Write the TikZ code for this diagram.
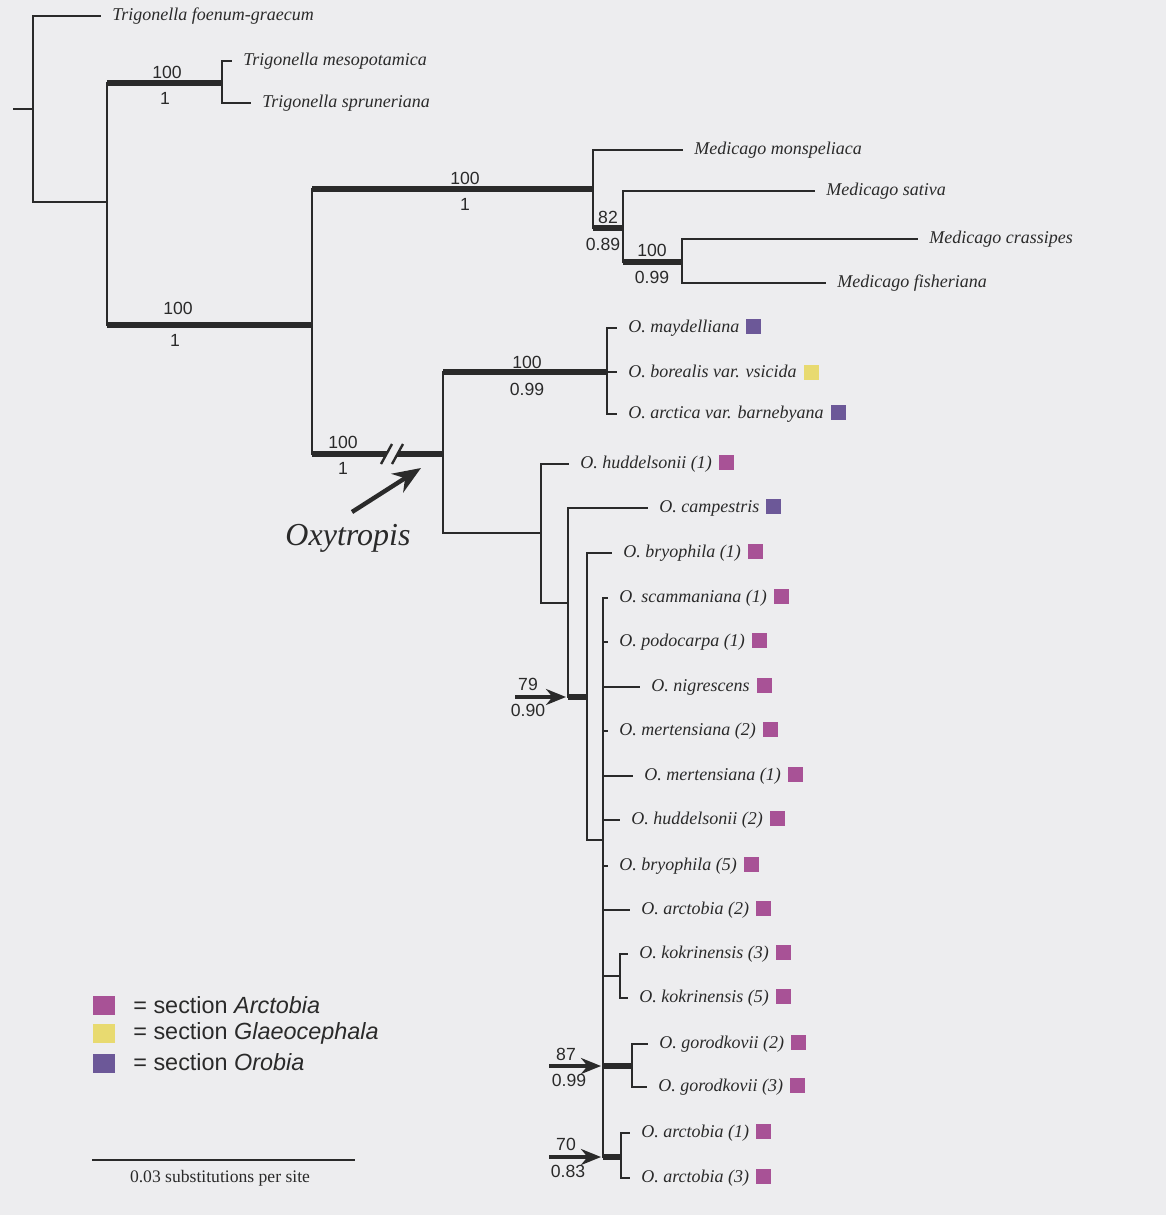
\documentclass[tikz,border=0pt]{standalone}
\usepackage{fontspec}
\setmainfont{Liberation Serif}
\newfontfamily\arial{Liberation Sans}
\usetikzlibrary{arrows.meta}
\definecolor{ink}{RGB}{42,42,42}
\definecolor{paper}{RGB}{237,237,239}
\definecolor{arcto}{RGB}{168,82,150}
\definecolor{glaeo}{RGB}{232,218,112}
\definecolor{orob}{RGB}{108,88,152}
\newcommand\secbox[1]{\hspace{3.5pt}\textcolor{#1}{\rule[-0.8pt]{7.5pt}{7.5pt}}}

\begin{document}
\begin{tikzpicture}[x=0.5pt,y=-0.5pt,
  br/.style={draw=ink,line width=0.8pt},
  thk/.style={draw=ink,line width=3.2pt},
  taxon/.style={anchor=west,inner xsep=5.5pt,inner ysep=1pt,text=ink,font=\fontsize{9}{10}\selectfont\itshape},
  supp/.style={inner sep=0pt,text=ink,font=\arial\fontsize{8.8}{9}\selectfont},
  supparrow/.style={draw=ink,line width=1.6pt,shorten >=1pt,-{Stealth[length=10pt,width=8pt]}},
  legbox/.style={minimum width=11pt,minimum height=9.5pt,inner sep=0pt},
  legtext/.style={anchor=west,inner sep=0pt,text=ink,font=\arial\fontsize{11.7}{12}\selectfont}]

\fill[paper] (0,0) rectangle (1166,1215);
\useasboundingbox (0,0) rectangle (1166,1215);

% internal nodes
\coordinate (stem) at (13,109);
\coordinate (r) at (33,109);
\coordinate (A) at (107,202);
\coordinate (T) at (222,83);
\coordinate (B) at (312,325);
\coordinate (M) at (593,189);
\coordinate (M2) at (623,228);
\coordinate (M3) at (682,262);
\coordinate (X) at (443,454);
\coordinate (O1) at (607,372);
\coordinate (O2) at (541,533);
\coordinate (O3) at (568,603);
\coordinate (O4) at (587,697);
\coordinate (O5) at (603,840);
\coordinate (K) at (620,976);
\coordinate (G) at (632,1066);
\coordinate (A3) at (621,1157);

% tips
\node[taxon] (foen) at (101,16) {Trigonella foenum-graecum};
\node[taxon] (meso) at (232,61) {Trigonella mesopotamica};
\node[taxon] (spru) at (251,103) {Trigonella spruneriana};
\node[taxon] (mons) at (683,150) {Medicago monspeliaca};
\node[taxon] (sati) at (815,191) {Medicago sativa};
\node[taxon] (cras) at (918,239) {Medicago crassipes};
\node[taxon] (fish) at (826,283) {Medicago fisheriana};
\node[taxon] (mayd) at (617,328) {O. maydelliana\secbox{orob}};
\node[taxon] (bore) at (617,372) {O. borealis var. vsicida\secbox{glaeo}};
\node[taxon] (arct) at (617,414) {O. arctica var. barnebyana\secbox{orob}};
\node[taxon] (hud1) at (569,464) {O. huddelsonii (1)\secbox{arcto}};
\node[taxon] (camp) at (648,508) {O. campestris\secbox{orob}};
\node[taxon] (bry1) at (612,553) {O. bryophila (1)\secbox{arcto}};
\node[taxon] (scam) at (608,598) {O. scammaniana (1)\secbox{arcto}};
\node[taxon] (podo) at (608,642) {O. podocarpa (1)\secbox{arcto}};
\node[taxon] (nigr) at (640,687) {O. nigrescens\secbox{arcto}};
\node[taxon] (mer2) at (608,731) {O. mertensiana (2)\secbox{arcto}};
\node[taxon] (mer1) at (633,776) {O. mertensiana (1)\secbox{arcto}};
\node[taxon] (hud2) at (620,820) {O. huddelsonii (2)\secbox{arcto}};
\node[taxon] (bry5) at (608,866) {O. bryophila (5)\secbox{arcto}};
\node[taxon] (arc2) at (630,910) {O. arctobia (2)\secbox{arcto}};
\node[taxon] (kok3) at (628,954) {O. kokrinensis (3)\secbox{arcto}};
\node[taxon] (kok5) at (628,998) {O. kokrinensis (5)\secbox{arcto}};
\node[taxon] (gor2) at (648,1044) {O. gorodkovii (2)\secbox{arcto}};
\node[taxon] (gor3) at (647,1087) {O. gorodkovii (3)\secbox{arcto}};
\node[taxon] (arc1) at (630,1133) {O. arctobia (1)\secbox{arcto}};
\node[taxon] (arc3) at (630,1178) {O. arctobia (3)\secbox{arcto}};

% branches
\draw[br] (stem) -- (r);
\foreach \p/\c in {r/foen,T/meso,T/spru,M/mons,M2/sati,M3/cras,M3/fish,O1/mayd,O1/bore,O1/arct,
  O2/hud1,O3/camp,O4/bry1,O5/scam,O5/podo,O5/nigr,O5/mer2,O5/mer1,O5/hud2,O5/bry5,O5/arc2,
  K/kok3,K/kok5,G/gor2,G/gor3,A3/arc1,A3/arc3}
  \draw[br] (\p) |- (\c.west);
\foreach \p/\c in {r/A,A/T,A/B,B/M,B/X,M/M2,M2/M3,X/O1,X/O2,O2/O3,O3/O4,O4/O5,O5/K,O5/G,O5/A3}
  \draw[br] (\p) |- (\c);
\foreach \p/\c in {A/T,A/B,B/M,B/X,M/M2,M2/M3,X/O1,O3/O4,O5/G,O5/A3}
  \draw[thk] (\p |- \c) -- (\c);

% break on the Oxytropis stem
\fill[paper] (384,458) -- (395,458) -- (399,450) -- (388,450) -- cycle;
\draw[draw=ink,line width=1.2pt] (381,464) -- (392,444) (392,464) -- (403,444);

% support values
\node[supp] (s1a) at (167,72) {100};
\node[supp] (s1b) at (165,98) {1};
\node[supp] (s2a) at (465,178) {100};
\node[supp] (s2b) at (465,204) {1};
\node[supp] (s3a) at (608,217) {82};
\node[supp] (s3b) at (603,244) {0.89};
\node[supp] (s4a) at (652,250) {100};
\node[supp] (s4b) at (652,277) {0.99};
\node[supp] (s5a) at (178,308) {100};
\node[supp] (s5b) at (175,340) {1};
\node[supp] (s6a) at (527,362) {100};
\node[supp] (s6b) at (527,389) {0.99};
\node[supp] (s7a) at (343,442) {100};
\node[supp] (s7b) at (343,468) {1};
\node[supp] (s8a) at (528,684) {79};
\node[supp] (s8b) at (528,710) {0.90};
\node[supp] (s9a) at (566,1054) {87};
\node[supp] (s9b) at (569,1080) {0.99};
\node[supp] (s10a) at (566,1144) {70};
\node[supp] (s10b) at (568,1171) {0.83};

\coordinate (a79) at (515,697);
\coordinate (a87) at (549,1066);
\coordinate (a70) at (549,1157);
\draw[supparrow] (a79) -- (O3 |- O4);
\draw[supparrow] (a87) -- (O5 |- G);
\draw[supparrow] (a70) -- (O5 |- A3);

% Oxytropis label
\node[text=ink,font=\fontsize{16}{18}\selectfont\itshape] (oxy) at (348,538) {Oxytropis};
\coordinate (oxtail) at (352,512);
\coordinate (oxtip) at (421,468);
\draw[draw=ink,line width=2.2pt,-{Stealth[length=14pt,width=11pt]}] (oxtail) -- (oxtip);

% legend
\node[legbox,fill=arcto] (lb1) at (104,1005) {};
\node[legbox,fill=glaeo] (lb2) at (104,1033) {};
\node[legbox,fill=orob] (lb3) at (104,1063) {};
\node[legtext] (lt1) at (133,1005) {= section \textit{Arctobia}};
\node[legtext] (lt2) at (133,1033) {= section \textit{Glaeocephala}};
\node[legtext] (lt3) at (133,1062) {= section \textit{Orobia}};

% scale bar
\coordinate (sb1) at (92,1160);
\coordinate (sb2) at (355,1160);
\draw[draw=ink,line width=1pt] (sb1) -- (sb2);
\node[text=ink,font=\fontsize{8.8}{10}\selectfont] (sbl) at (220,1178) {0.03 substitutions per site};
\end{tikzpicture}
\end{document}
